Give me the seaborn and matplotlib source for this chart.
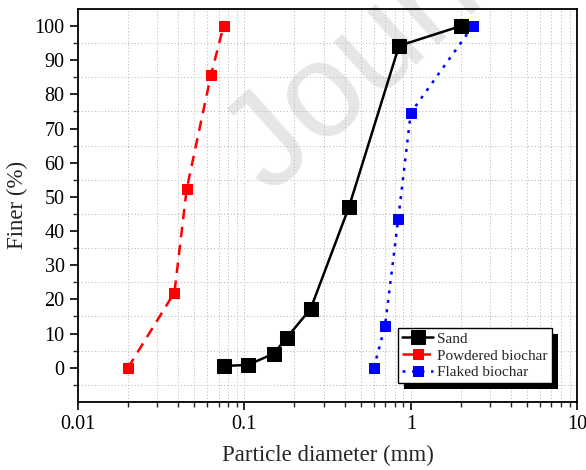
import numpy as np
import pandas as pd
import matplotlib
matplotlib.use("Agg")
import matplotlib.pyplot as plt
import seaborn as sns
from matplotlib.ticker import LogLocator, FixedFormatter, FixedLocator
from matplotlib.patches import Rectangle
from matplotlib.transforms import IdentityTransform

sns.set_style("white")
plt.rcParams['font.family'] = ['Liberation Serif', 'DejaVu Serif']

# Data
sand_d = [0.075, 0.105, 0.15, 0.18, 0.25, 0.425, 0.85, 2.0]
sand_f = [0.5, 0.8, 4.1, 8.8, 17.2, 47.0, 94.2, 100.0]
powder_d = [0.02, 0.038, 0.045, 0.063, 0.075]
powder_f = [0.0, 22.0, 52.2, 85.7, 100.0]
flake_d = [0.6, 0.7, 0.84, 1.0, 2.36]
flake_f = [0.0, 12.2, 43.4, 74.6, 100.0]
series_names = ["Sand", "Powdered biochar", "Flaked biochar"]
x_ticks = [0.01, 0.1, 1, 10]
x_ticklabels = ["0.01", "0.1", "1", "10"]
y_ticks = [0, 10, 20, 30, 40, 50, 60, 70, 80, 90, 100]

W, H = 586, 470
fig = plt.figure(figsize=(W / 100, H / 100), dpi=100)
ax = fig.add_axes([0.133, 0.145, 0.852, 0.836])

# watermark
ax.text(270 / W, 1 - 196 / H, "Journal Pre-proof", transform=fig.transFigure,
        fontsize=97, color="#e6e6e6", rotation=42, rotation_mode="anchor",
        ha="left", va="baseline", family="Liberation Sans", zorder=0,
        clip_on=False)

sns.lineplot(x=sand_d, y=sand_f, ax=ax, color="black", lw=1.8, marker="s",
             markersize=10, markeredgecolor="black", sort=False,
             label=series_names[0], zorder=5)
sns.lineplot(x=powder_d, y=powder_f, ax=ax, color="red", lw=1.8, marker="s",
             markersize=6.5, markeredgecolor="red", sort=False,
             label=series_names[1], zorder=4)
sns.lineplot(x=flake_d, y=flake_f, ax=ax, color="blue", lw=1.8, marker="s",
             markersize=6.5, markeredgecolor="blue", sort=False,
             label=series_names[2], zorder=4)
lines = ax.get_lines()
lines[0].set_linestyle("-")
lines[1].set_linestyle((0, (4.2, 3)))
lines[2].set_linestyle((0, (1.2, 2.6)))

ax.set_xscale("log")
ax.set_xlim(0.01, 10)
ax.set_ylim(-10, 105)
ax.xaxis.set_major_locator(FixedLocator(x_ticks))
ax.xaxis.set_major_formatter(FixedFormatter(x_ticklabels))
ax.xaxis.set_minor_locator(LogLocator(base=10, subs=np.arange(2, 10)))
ax.yaxis.set_major_locator(FixedLocator(y_ticks))
ax.yaxis.set_minor_locator(FixedLocator(np.arange(-5, 105, 10)))

gkw = dict(color="#bdbdbd", linestyle=(0, (1.2, 2.2)), lw=0.7)
ax.grid(True, which="minor", axis="both", **gkw)
ax.grid(True, which="major", axis="x", **gkw)
ax.set_axisbelow(True)

ax.tick_params(axis="both", which="major", direction="out", length=6, width=1.2,
               labelsize=14.5, colors="black", bottom=True, left=True, top=False, right=False)
ax.tick_params(axis="both", which="minor", direction="out", length=3.5, width=1,
               bottom=True, left=True, top=False, right=False)
ax.tick_params(axis="x", which="minor", labelbottom=False)
for s in ax.spines.values():
    s.set_visible(True)
    s.set_color("black")
    s.set_linewidth(1.3)

ax.set_xlabel("Particle diameter (mm)", fontsize=16.5, labelpad=8)
ax.set_ylabel("Finer (%)", fontsize=16.5, labelpad=5)

leg = ax.legend(loc="lower right", bbox_to_anchor=(0.955, 0.04), fontsize=11,
                frameon=True, fancybox=False, edgecolor="black", framealpha=1,
                borderpad=0.25, handlelength=2.0, handletextpad=0.3,
                labelspacing=0.2, borderaxespad=0.2)
leg.get_frame().set_linewidth(1.0)
leg.set_zorder(10)

fig.canvas.draw()
bb = leg.get_window_extent()
shadow = Rectangle((bb.x0 + 6, bb.y0 - 6), bb.width, bb.height,
                   transform=IdentityTransform(), facecolor="black",
                   edgecolor="none", zorder=9, clip_on=False)
ax.add_patch(shadow)

fig.savefig("out.png", dpi=100)
